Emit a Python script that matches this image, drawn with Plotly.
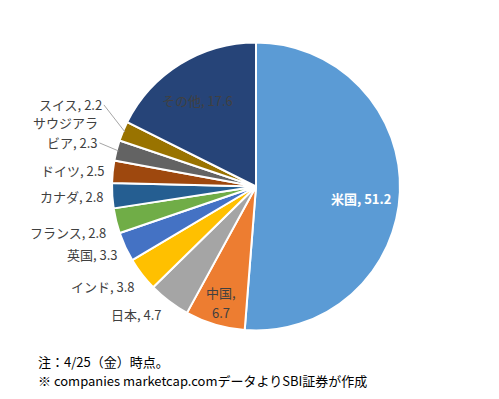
import math
import plotly.graph_objects as go

# ---- data ----
countries = ["米国", "中国", "日本", "インド", "英国", "フランス", "カナダ", "ドイツ", "サウジアラビア", "スイス", "その他"]
values = [51.2, 6.7, 4.7, 3.8, 3.3, 2.8, 2.8, 2.5, 2.3, 2.2, 17.6]
display_names = ["米国", "中国,|", "日本", "インド", "英国", "フランス", "カナダ", "ドイツ", "サウジアラ|ビア", "スイス", "その他"]
notes = ["注：4/25（金）時点。", "※ companies marketcap.comデータよりSBI証券が作成"]

# ---- style ----
colors = ["#5B9BD5", "#ED7D31", "#A5A5A5", "#FFC000", "#4472C4", "#70AD47",
          "#255E91", "#9E480E", "#636363", "#997300", "#264478"]
# label placement style: ("in", radial factor) or ("out", gap px) or ("lead", ax, ay)
label_style = [("in", 0.73), ("in", 0.84), ("out", 8), ("out", 6), ("out", 6), ("out", 8),
               ("out", 6), ("out", 6), ("lead", -19, -8), ("lead", -21, -27), ("in", 0.73)]
# small pixel nudges (dx, dy downward) of the labels
nudges = [(0, 8), (0, 0), (0, 0), (0, 4), (0, 2), (0, 8), (0, 0), (0, 0), (0, 0), (0, 0), (-3, 3)]
text_colors = ["white"] + ["#404040"] * 10
LINE_GAP = 20

FONT = "Noto Sans CJK JP, Meiryo, sans-serif"
W, H = 483, 383          # body has an 8px margin in the page
CX, CY, R = 248, 178.5, 144

fig = go.Figure(go.Pie(
    labels=countries,
    values=values,
    textinfo="none",
    hoverinfo="label+value",
    marker=dict(colors=colors, line=dict(color="white", width=2)),
    sort=False,
    direction="clockwise",
    rotation=0,
    domain=dict(x=[(CX - R) / W, (CX + R) / W], y=[1 - (CY + R) / H, 1 - (CY - R) / H]),
    showlegend=False,
))


def add_text(px, py, text, xanchor, color, bold=False):
    fig.add_annotation(x=px / W, y=1 - py / H, xref="paper", yref="paper",
                       text=text, showarrow=False, xanchor=xanchor, yanchor="middle",
                       font=dict(family=FONT, size=13, color=color,
                                 weight="bold" if bold else "normal"))


total = sum(values)
cum = 0.0
for disp, v, st, nd, tc in zip(display_names, values, label_style, nudges, text_colors):
    mid = (cum + v / 2) / total * 2 * math.pi
    cum += v
    s, c = math.sin(mid), math.cos(mid)
    parts = disp.split("|")
    lines = parts[:-1] + [(parts[-1] + ", " if parts[-1] else "") + str(v)]
    n = len(lines)
    if st[0] == "in":
        r = R * st[1]
        px, py = CX + r * s + nd[0], CY - r * c + nd[1]
        for i, ln in enumerate(lines):
            add_text(px, py + (i - (n - 1) / 2) * LINE_GAP, ln, "center", tc, tc == "white")
    elif st[0] == "out":
        r = R + st[1]
        px, py = CX + r * s + nd[0], CY - r * c + nd[1] - 8 * c
        for i, ln in enumerate(lines):
            add_text(px, py + (i - (n - 1) / 2) * LINE_GAP, ln, "right", tc)
    else:
        r = R - 2
        px, py = CX + r * s, CY - r * c
        fig.add_annotation(x=px / W, y=1 - py / H, xref="paper", yref="paper",
                           text=lines[-1], showarrow=True, arrowhead=0, arrowwidth=1,
                           arrowcolor="#A6A6A6", ax=st[1], ay=st[2], standoff=0,
                           xanchor="right", yanchor="middle",
                           font=dict(family=FONT, size=13, color=tc))
        for i, ln in enumerate(lines[:-1]):
            add_text(px + st[1], py + st[2] - (n - 1 - i) * LINE_GAP, ln, "right", tc)

fig.add_annotation(text=notes[0], x=29 / W, y=1 - 353 / H, xref="paper", yref="paper",
                   xanchor="left", yanchor="middle", showarrow=False, borderpad=0,
                   font=dict(family=FONT, size=13, color="#000000"))
fig.add_annotation(text=notes[1], x=29 / W, y=0, xref="paper", yref="paper",
                   xanchor="left", yanchor="bottom", showarrow=False, borderpad=0,
                   font=dict(family=FONT, size=13, color="#000000"))

fig.update_layout(width=W, height=H, margin=dict(l=0, r=0, t=0, b=0),
                  paper_bgcolor="white", plot_bgcolor="white")
fig.write_html("out.html")
